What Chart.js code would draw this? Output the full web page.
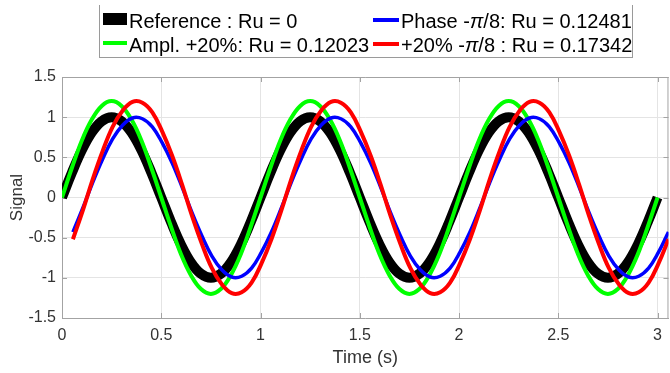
<!DOCTYPE html>
<html>
<head>
<meta charset="utf-8">
<script src="https://cdn.jsdelivr.net/npm/chart.js@4"></script>
<style>
  body { margin: 0; background: #fff; }
  #wrap { position: relative; width: 670px; height: 373px; overflow: hidden; }
  #legend { position: absolute; left: 99px; top: 5px; width: 532px; height: 52px;
            border-left: 1px solid #9a9a9a; border-right: 1px solid #9a9a9a; border-bottom: 1px solid #9a9a9a;
            font: 20px "Liberation Sans", Arial, sans-serif; color: #000; }
  .item { position: absolute; white-space: nowrap; line-height: 20px; }
  .sample { position: absolute; }
</style>
</head>
<body>
<div id="wrap">
  <canvas id="chart" width="670" height="373"></canvas>
  <div id="legend"></div>
</div>
<script>
// time axes (s)
var timeRef = [0, 0.05, 0.1, 0.15, 0.2, 0.25, 0.3, 0.35, 0.4, 0.45, 0.5, 0.55, 0.6, 0.65, 0.7, 0.75, 0.8, 0.85, 0.9, 0.95,
  1, 1.05, 1.1, 1.15, 1.2, 1.25, 1.3, 1.35, 1.4, 1.45, 1.5, 1.55, 1.6, 1.65, 1.7, 1.75, 1.8, 1.85, 1.9, 1.95,
  2, 2.05, 2.1, 2.15, 2.2, 2.25, 2.3, 2.35, 2.4, 2.45, 2.5, 2.55, 2.6, 2.65, 2.7, 2.75, 2.8, 2.85, 2.9, 2.95, 3];
var timeShift = [0.055, 0.105, 0.155, 0.205, 0.255, 0.305, 0.355, 0.405, 0.455, 0.505, 0.555, 0.605, 0.655, 0.705, 0.755, 0.805, 0.855, 0.905, 0.955, 1.005,
  1.055, 1.105, 1.155, 1.205, 1.255, 1.305, 1.355, 1.405, 1.455, 1.505, 1.555, 1.605, 1.655, 1.705, 1.755, 1.805, 1.855, 1.905, 1.955, 2.005,
  2.055, 2.105, 2.155, 2.205, 2.255, 2.305, 2.355, 2.405, 2.455, 2.505, 2.555, 2.605, 2.655, 2.705, 2.755, 2.805, 2.855, 2.905, 2.955, 3.005, 3.055];

// signals
var refSignal = [0, 0.31, 0.59, 0.81, 0.95, 1, 0.95, 0.81, 0.59, 0.31, 0, -0.31, -0.59, -0.81, -0.95, -1, -0.95, -0.81, -0.59, -0.31,
  0, 0.31, 0.59, 0.81, 0.95, 1, 0.95, 0.81, 0.59, 0.31, 0, -0.31, -0.59, -0.81, -0.95, -1, -0.95, -0.81, -0.59, -0.31,
  0, 0.31, 0.59, 0.81, 0.95, 1, 0.95, 0.81, 0.59, 0.31, 0, -0.31, -0.59, -0.81, -0.95, -1, -0.95, -0.81, -0.59, -0.31, 0];
var amplSignal = [0, 0.37, 0.71, 0.97, 1.14, 1.2, 1.14, 0.97, 0.71, 0.37, 0, -0.37, -0.71, -0.97, -1.14, -1.2, -1.14, -0.97, -0.71, -0.37,
  0, 0.37, 0.71, 0.97, 1.14, 1.2, 1.14, 0.97, 0.71, 0.37, 0, -0.37, -0.71, -0.97, -1.14, -1.2, -1.14, -0.97, -0.71, -0.37,
  0, 0.37, 0.71, 0.97, 1.14, 1.2, 1.14, 0.97, 0.71, 0.37, 0, -0.37, -0.71, -0.97, -1.14, -1.2, -1.14, -0.97, -0.71, -0.37, 0];
var phaseSignal = [-0.43, -0.13, 0.19, 0.48, 0.73, 0.9, 0.99, 0.98, 0.88, 0.68, 0.43, 0.13, -0.19, -0.48, -0.73, -0.9, -0.99, -0.98, -0.88, -0.68,
  -0.43, -0.13, 0.19, 0.48, 0.73, 0.9, 0.99, 0.98, 0.88, 0.68, 0.43, 0.13, -0.19, -0.48, -0.73, -0.9, -0.99, -0.98, -0.88, -0.68,
  -0.43, -0.13, 0.19, 0.48, 0.73, 0.9, 0.99, 0.98, 0.88, 0.68, 0.43, 0.13, -0.19, -0.48, -0.73, -0.9, -0.99, -0.98, -0.88, -0.68, -0.43];
var bothSignal = [-0.52, -0.16, 0.23, 0.58, 0.88, 1.08, 1.19, 1.18, 1.06, 0.82, 0.52, 0.16, -0.23, -0.58, -0.88, -1.08, -1.19, -1.18, -1.06, -0.82,
  -0.52, -0.16, 0.23, 0.58, 0.88, 1.08, 1.19, 1.18, 1.06, 0.82, 0.52, 0.16, -0.23, -0.58, -0.88, -1.08, -1.19, -1.18, -1.06, -0.82,
  -0.52, -0.16, 0.23, 0.58, 0.88, 1.08, 1.19, 1.18, 1.06, 0.82, 0.52, 0.16, -0.23, -0.58, -0.88, -1.08, -1.19, -1.18, -1.06, -0.82, -0.52];

var legendLabels = ['Reference : Ru = 0', 'Ampl. +20%: Ru = 0.12023', 'Phase -π/8: Ru = 0.12481', '+20% -π/8 : Ru = 0.17342'];
var xTicks = [0, 0.5, 1, 1.5, 2, 2.5, 3];
var yTicks = [-1.5, -1, -0.5, 0, 0.5, 1, 1.5];

var axis_color = '#a3a3a3';
var grid_color = '#e4e4e4';
var text_color = '#333333';

function pts(xs, ys) {
    return xs.map(function (x, i) { return {x: x, y: ys[i]}; });
}

// top/right box lines plus inward ticks, like matlab's "box on"
var boxPlugin = {
    id: 'boxPlugin',
    beforeDatasetsDraw: function (chart) {
        var a = chart.chartArea;
        var c = chart.ctx;
        var xs = chart.scales.x, ys = chart.scales.y;
        c.save();
        c.strokeStyle = axis_color;
        c.lineWidth = 1;
        c.beginPath();
        c.moveTo(a.left, a.top + 0.5); c.lineTo(a.right, a.top + 0.5);
        c.moveTo(a.right - 0.5, a.top); c.lineTo(a.right - 0.5, a.bottom);
        xTicks.forEach(function (v) {
            var px = Math.round(xs.getPixelForValue(v)) + 0.5;
            c.moveTo(px, a.bottom); c.lineTo(px, a.bottom - 5);
            c.moveTo(px, a.top); c.lineTo(px, a.top + 5);
        });
        yTicks.forEach(function (v) {
            var py = Math.round(ys.getPixelForValue(v)) + 0.5;
            c.moveTo(a.left, py); c.lineTo(a.left + 5, py);
            c.moveTo(a.right, py); c.lineTo(a.right - 5, py);
        });
        c.stroke();
        c.restore();
    }
};

var ctx = document.getElementById('chart');

var cfg = {
    type: 'line',
    data: {
        datasets: [
            {label: legendLabels[0], data: pts(timeRef, refSignal), borderColor: '#000000', borderWidth: 10, order: 4},
            {label: legendLabels[1], data: pts(timeRef, amplSignal), borderColor: '#00ff00', borderWidth: 4, order: 3},
            {label: legendLabels[2], data: pts(timeShift, phaseSignal), borderColor: '#0000ff', borderWidth: 3.5, order: 2},
            {label: legendLabels[3], data: pts(timeShift, bothSignal), borderColor: '#ff0000', borderWidth: 4, order: 1}
        ]
    },
    options: {
        responsive: false,
        animation: false,
        devicePixelRatio: 1,
        elements: {
            point: {radius: 0},
            line: {tension: 0.4, borderCapStyle: 'butt'}
        },
        layout: {padding: {top: 77, right: 0, left: 0, bottom: 0}},
        scales: {
            x: {
                type: 'linear',
                min: 0,
                max: 3.055,
                afterBuildTicks: function (s) { s.ticks = xTicks.map(function (v) { return {value: v}; }); },
                afterFit: function (s) { s.height = 55; },
                title: {
                    display: true,
                    text: 'Time (s)',
                    color: text_color,
                    font: {family: '"Liberation Sans", Arial', size: 18},
                    padding: {top: 0, bottom: 4}
                },
                ticks: {
                    color: text_color,
                    font: {family: '"Liberation Sans", Arial', size: 16},
                    padding: 8,
                    maxRotation: 0,
                    callback: function (v) { return String(v); }
                },
                grid: {color: grid_color, drawTicks: false},
                border: {color: axis_color}
            },
            y: {
                type: 'linear',
                min: -1.5,
                max: 1.5,
                afterBuildTicks: function (s) { s.ticks = yTicks.map(function (v) { return {value: v}; }); },
                afterFit: function (s) { s.width = 62; },
                title: {
                    display: true,
                    text: 'Signal',
                    color: text_color,
                    font: {family: '"Liberation Sans", Arial', size: 17},
                    padding: {top: 7, bottom: 0}
                },
                ticks: {
                    color: text_color,
                    font: {family: '"Liberation Sans", Arial', size: 16},
                    padding: 6,
                    callback: function (v) { return String(v); }
                },
                grid: {color: grid_color, drawTicks: false},
                border: {color: axis_color}
            }
        },
        plugins: {
            legend: {display: false},
            tooltip: {enabled: false}
        }
    },
    plugins: [boxPlugin]
};

const chart = new Chart(ctx, cfg);

// matlab style 2-column legend, filled column-wise
var legendPos = [
    {sx: 3, sy: 8, sw: 24, sh: 12, tx: 29, ty: 6},
    {sx: 3, sy: 36, sw: 24, sh: 4, tx: 29, ty: 30},
    {sx: 273, sy: 13, sw: 26, sh: 4, tx: 301, ty: 6},
    {sx: 273, sy: 37, sw: 26, sh: 4, tx: 301, ty: 30}
];
var legend = document.getElementById('legend');
cfg.data.datasets.forEach(function (ds, i) {
    var p = legendPos[i];
    var s = document.createElement('div');
    s.className = 'sample';
    s.style.left = p.sx + 'px'; s.style.top = p.sy + 'px';
    s.style.width = p.sw + 'px'; s.style.height = p.sh + 'px';
    s.style.background = ds.borderColor;
    legend.appendChild(s);
    var t = document.createElement('div');
    t.className = 'item';
    t.style.left = p.tx + 'px'; t.style.top = p.ty + 'px';
    t.innerHTML = ds.label.replace(/π/g, '<i>π</i>');
    legend.appendChild(t);
});
</script>
</body>
</html>
